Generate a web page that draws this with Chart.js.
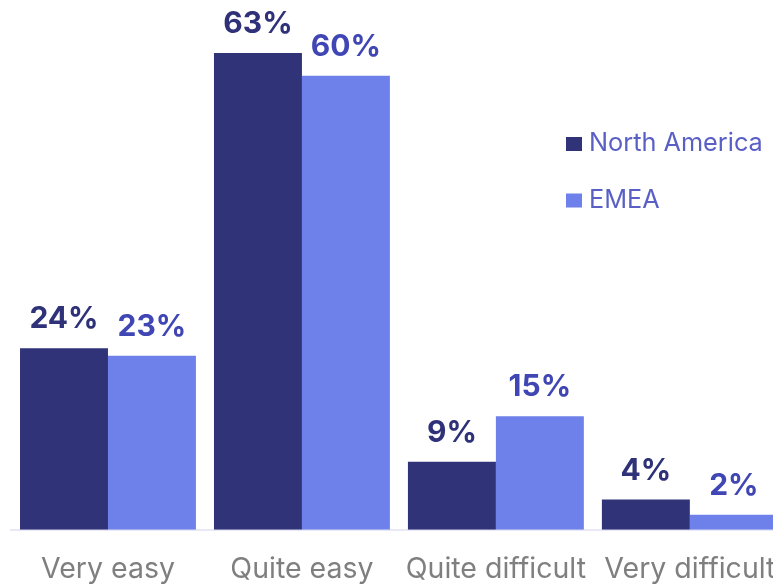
<!DOCTYPE html>
<html>
<head>
<meta charset="utf-8">
<script src="https://cdn.jsdelivr.net/npm/chart.js@4/dist/chart.umd.min.js"></script>
<style>
  html, body { margin: 0; padding: 0; background: #ffffff; overflow: hidden; }
  #wrap { width: 800px; height: 585px; overflow: hidden; }
</style>
</head>
<body>
<div id="wrap"><canvas id="chart" width="800" height="610"></canvas></div>
<script>
// Survey answers by region (percent of respondents)
const categories = ['Very easy', 'Quite easy', 'Quite difficult', 'Very difficult'];
const northAmerica = [24, 63, 9, 4];
const emea = [23, 60, 15, 2];
const seriesNames = ['North America', 'EMEA'];

const FONT = 'Inter, "Liberation Sans", Arial, sans-serif';
const barColors = ['#303377', '#6e80e9'];
const valueColors = ['#2f3278', '#4047b4'];
const legendTextColor = '#5a5fc6';

// Percent labels above each bar
const valueLabels = {
  id: 'valueLabels',
  afterDatasetsDraw(chart) {
    const ctx = chart.ctx;
    ctx.save();
    ctx.font = 'bold 30px ' + FONT;
    ctx.textAlign = 'center';
    ctx.textBaseline = 'alphabetic';
    chart.data.datasets.forEach((ds, i) => {
      const meta = chart.getDatasetMeta(i);
      ctx.fillStyle = valueColors[i];
      meta.data.forEach((bar, j) => {
        ctx.fillText(ds.data[j] + '%', bar.x, bar.y - 20);
      });
    });
    ctx.restore();
  }
};

// Legend drawn as a vertical list on the right
const sideLegend = {
  id: 'sideLegend',
  afterDraw(chart) {
    const ctx = chart.ctx;
    ctx.save();
    ctx.font = '25.3px ' + FONT;
    ctx.textAlign = 'left';
    ctx.textBaseline = 'alphabetic';
    chart.data.datasets.forEach((ds, i) => {
      const y = 151 + i * 56.5;
      ctx.fillStyle = ds.backgroundColor;
      ctx.fillRect(566, y - 14, 16, 14);
      ctx.fillStyle = legendTextColor;
      ctx.fillText(ds.label, 589, y);
    });
    ctx.restore();
  }
};

new Chart(document.getElementById('chart'), {
  type: 'bar',
  data: {
    labels: categories,
    datasets: [
      { label: seriesNames[0], data: northAmerica, backgroundColor: barColors[0] },
      { label: seriesNames[1], data: emea, backgroundColor: barColors[1] }
    ]
  },
  options: {
    responsive: false,
    animation: false,
    devicePixelRatio: 1,
    layout: { padding: { left: 11, right: 13, top: 0, bottom: 0 } },
    datasets: { bar: { categoryPercentage: 0.907, barPercentage: 1 } },
    plugins: { legend: { display: false }, tooltip: { enabled: false } },
    scales: {
      x: {
        grid: { display: false, drawTicks: false },
        border: { display: true, color: '#e8e8f6', width: 2 },
        ticks: { color: '#7f7f7f', font: { family: FONT, size: 28.5 }, padding: 23, maxRotation: 0, autoSkip: false }
      },
      y: { display: false, min: 0, max: 70 }
    }
  },
  plugins: [valueLabels, sideLegend]
});
</script>
</body>
</html>
